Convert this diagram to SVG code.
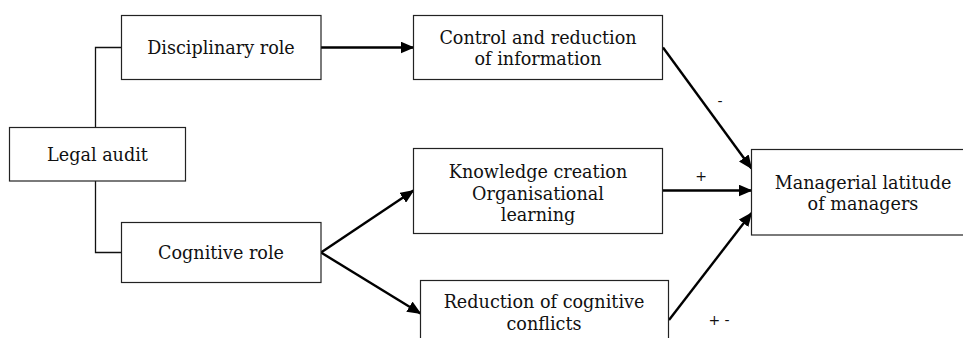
<svg xmlns="http://www.w3.org/2000/svg" width="963" height="338" viewBox="0 0 963 338">
<style>
.box{fill:#fff;stroke:#222;stroke-width:1.2}
.t{font-family:"DejaVu Serif","Liberation Serif",serif;font-size:17.6px;fill:#111;text-anchor:middle}
.lbl{font-family:"DejaVu Sans","Liberation Sans",sans-serif;font-size:14px;fill:#111;text-anchor:middle}
.thin{fill:none;stroke:#111;stroke-width:1.3}
.arr{fill:none;stroke:#000;stroke-width:2.4;marker-end:url(#ah)}
</style>
<defs>
<marker id="ah" markerUnits="userSpaceOnUse" markerWidth="14" markerHeight="12" refX="13" refY="6" orient="auto">
<path d="M0,0 L14,6 L0,12 Z" fill="#000"/>
</marker>
</defs>
<rect width="963" height="338" fill="#fff"/>
<g id="connectors">
<path class="thin" d="M121.5,47.5 H95.5 V127.5"/>
<path class="thin" d="M95.5,181 V252.5 H121.5"/>
<line class="arr" x1="321" y1="47.5" x2="413.5" y2="47.5"/>
<line class="arr" x1="321" y1="252.5" x2="413.5" y2="190.5"/>
<line class="arr" x1="321" y1="252.5" x2="420.5" y2="313.5"/>
<line class="arr" x1="663" y1="47.5" x2="751.5" y2="168.5"/>
<line class="arr" x1="663" y1="190.5" x2="751.5" y2="190.5"/>
<line class="arr" x1="669" y1="320" x2="751.5" y2="213"/>
<text class="lbl" x="720" y="106">-</text>
<text class="lbl" x="701" y="181">+</text>
<text class="lbl" x="719" y="325">+ -</text>
</g>
<g id="legal-audit">
<rect class="box" x="9.5" y="127.5" width="176" height="53.5"/>
<text class="t" x="97.5" y="161">Legal audit</text>
</g>
<g id="disciplinary-role">
<rect class="box" x="121.5" y="15.5" width="199.5" height="64"/>
<text class="t" x="221" y="53.5">Disciplinary role</text>
</g>
<g id="cognitive-role">
<rect class="box" x="121.5" y="222.5" width="199.5" height="60"/>
<text class="t" x="221" y="259">Cognitive role</text>
</g>
<g id="control">
<rect class="box" x="413.5" y="15.5" width="249" height="64"/>
<text class="t" x="538" y="43.5">Control and reduction</text>
<text class="t" x="538" y="65">of information</text>
</g>
<g id="knowledge">
<rect class="box" x="413.5" y="148.5" width="249" height="85"/>
<text class="t" x="538" y="178">Knowledge creation</text>
<text class="t" x="538" y="199.5">Organisational</text>
<text class="t" x="538" y="221">learning</text>
</g>
<g id="reduction">
<rect class="box" x="420.5" y="280.5" width="248" height="70"/>
<text class="t" x="544" y="308">Reduction of cognitive</text>
<text class="t" x="544" y="329.5">conflicts</text>
</g>
<g id="managerial">
<rect class="box" x="751.5" y="149.5" width="215" height="85.5"/>
<text class="t" x="863" y="188.5">Managerial latitude</text>
<text class="t" x="863" y="210">of managers</text>
</g>
</svg>
